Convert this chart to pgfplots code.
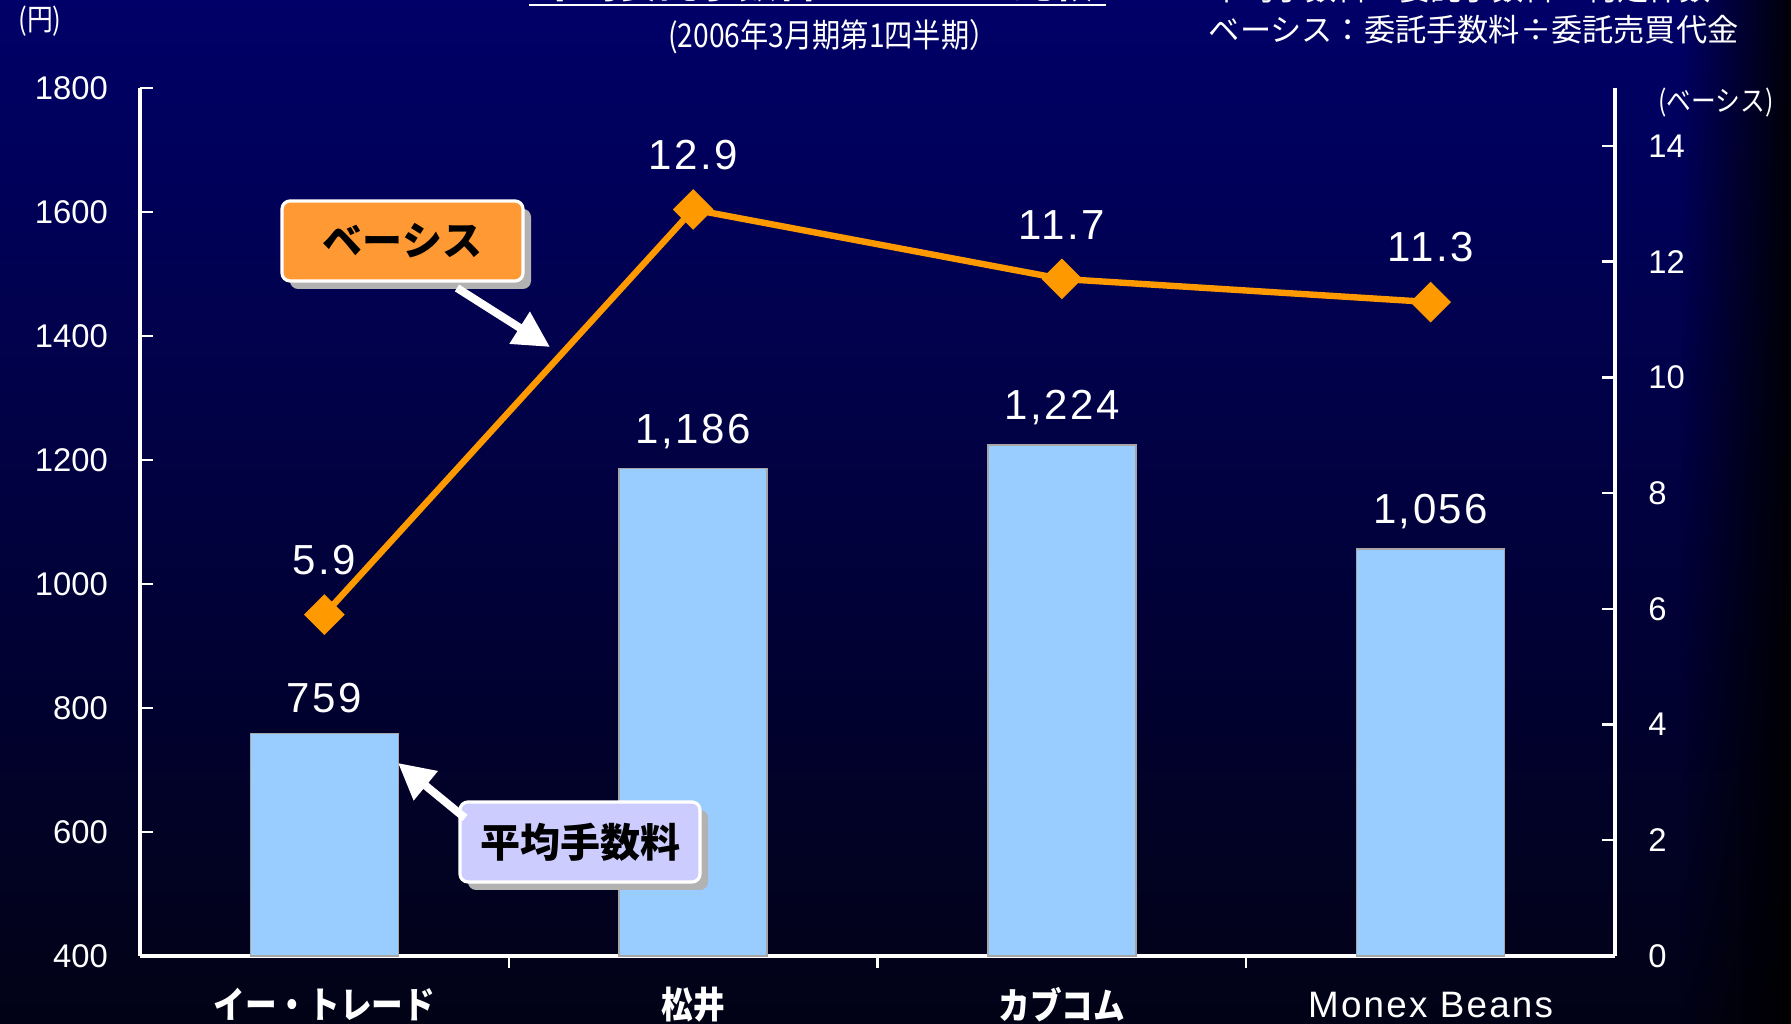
\documentclass[border=0pt]{standalone}
\usepackage{fontspec}
\setmainfont{Liberation Sans}
\newfontfamily\jp{Noto Sans CJK JP}
\newfontfamily\jpc[FakeStretch=0.86]{Noto Sans CJK JP}
\newfontfamily\numfont[LetterSpace=6]{Liberation Sans}
\usepackage{pgfplots}
\pgfplotsset{compat=1.18}
\usetikzlibrary{arrows.meta,fadings}

\definecolor{bgtop}{RGB}{0,0,104}
\definecolor{bgbot}{RGB}{2,2,22}
\definecolor{barblue}{RGB}{153,204,255}
\definecolor{lineorange}{RGB}{255,153,0}
\definecolor{boxorange}{RGB}{255,153,51}
\definecolor{boxlav}{RGB}{204,204,255}
\tikzfading[name=fadeR, left color=transparent!100, right color=transparent!0]

\begin{document}
\begin{tikzpicture}
\path[use as bounding box] (0,0) rectangle (447.75pt,256pt);
\clip (0,0) rectangle (447.75pt,256pt);
\shade[top color=bgtop, bottom color=bgbot] (0,0) rectangle (447.75pt,256pt);

% pixel coordinates, origin top left
\begin{scope}[x=0.25pt,y=-0.25pt,yshift=256pt]
  \fill[black, path fading=fadeR] (1680,-5) rectangle (1800,1030);
\end{scope}

% bars, left axis
\begin{axis}[
  at={(35pt,17pt)}, anchor=south west,
  scale only axis, width=368.75pt, height=217pt,
  xmin=-0.5, xmax=3.5, ymin=400, ymax=1800,
  axis x line*=bottom, axis y line*=left,
  axis line style={white, line width=0.8pt},
  xtick={0,1,2,3},
  xticklabels={{\jpc\bfseries イー・トレード},{\jpc\bfseries 松井},{\jpc\bfseries カブコム},{\numfont Monex Beans}},
  major x tick style={draw=none},
  minor xtick={0.5,1.5,2.5},
  ytick={400,600,...,1800},
  tick align=inside,
  tick style={white, line width=0.6pt},
  major tick length=3.2pt, minor tick length=3pt,
  /pgf/number format/assume math mode=true,
  /pgf/number format/1000 sep={},
  yticklabel style={font=\fontsize{8.2}{9.8}\selectfont, text=white, anchor=east, xshift=-4.5pt},
  xticklabel style={font=\fontsize{9.2}{11}\selectfont, text=white, anchor=center, yshift=-9pt},
  ybar, bar width=37pt, bar shift=0pt,
  clip=false,
]
\addplot[fill=barblue, draw=gray!70, line width=0.4pt,
  nodes near coords={\pgfmathprintnumber[1000 sep={,}]{\pgfplotspointmeta}},
  every node near coord/.append style={font=\numfont\fontsize{10.5}{12}\selectfont, text=white, yshift=1.5pt}]
  coordinates {(0,759)(1,1186)(2,1224)(3,1056)};
\end{axis}

% line, right axis
\begin{axis}[
  at={(35pt,17pt)}, anchor=south west,
  scale only axis, width=368.75pt, height=217pt,
  xmin=-0.5, xmax=3.5, ymin=0, ymax=15,
  axis x line=none, axis y line*=right,
  axis line style={white, line width=0.8pt},
  ytick={0,2,...,14},
  tick align=inside,
  tick style={white, line width=0.6pt},
  major tick length=3.2pt,
  /pgf/number format/assume math mode=true,
  yticklabel style={font=\fontsize{8.2}{9.8}\selectfont, text=white, anchor=west, xshift=4.8pt},
  clip=false,
]
\addplot[lineorange, line width=1.6pt, mark=square*, mark size=2.8pt,
  mark options={rotate=45, fill=lineorange},
  nodes near coords={\pgfmathprintnumber[fixed, fixed zerofill, precision=1]{\pgfplotspointmeta}},
  every node near coord/.append style={font=\numfont\fontsize{10.5}{12}\selectfont, text=white, yshift=5.8pt}]
  coordinates {(0,5.9)(1,12.9)(2,11.7)(3,11.3)};
\end{axis}

\begin{scope}[x=0.25pt,y=-0.25pt,yshift=256pt]
  % clipped title and notes at the top
  \node[anchor=base, text=white, inner sep=0pt] at (817,-2)
    {\jpc\bfseries\fontsize{11.5}{12}\selectfont 平均委託手数料・ベーシス比較};
  \draw[white, line width=0.5pt] (529,5) -- (1106,5);
  \node[anchor=base west, text=white, inner sep=0pt] at (1211,1)
    {\jp\fontsize{7.8}{8}\selectfont 平均手数料：委託手数料÷約定件数};
  \node[anchor=west, text=white, inner sep=0pt] at (1208,30)
    {\jp\fontsize{7.8}{8}\selectfont ベーシス：委託手数料÷委託売買代金};
  \node[text=white, inner sep=0pt] at (833,37)
    {\jpc\fontsize{8.2}{9}\selectfont (2006年3月期第1四半期）};
  \node[text=white, inner sep=0pt] at (40,21)
    {\jpc\fontsize{7.5}{8}\selectfont (円)};
  \node[text=white, inner sep=0pt] at (1716,103)
    {\jpc\fontsize{7.2}{8}\selectfont (ベーシス)};

  % callout: basis
  \fill[gray!60, rounded corners=2pt] (290,209) rectangle (531,289);
  \draw[white, line width=0.8pt, fill=boxorange, rounded corners=2pt] (282,201) rectangle (523,281);
  \node at (402.5,241) {\jp\bfseries\fontsize{10}{12}\selectfont ベーシス};
  \draw[white, line width=2pt, -{Triangle[width=9pt,length=9pt]}] (457,288) -- (550,347);

  % callout: average fee
  \fill[gray!60, rounded corners=2pt] (468,810) rectangle (708,890);
  \draw[white, line width=0.8pt, fill=boxlav, rounded corners=2pt] (460,802) rectangle (700,882);
  \node at (580,842) {\jp\bfseries\fontsize{10}{12}\selectfont 平均手数料};
  \draw[white, line width=2pt, -{Triangle[width=9pt,length=9pt]}] (465,818) -- (398,763);
\end{scope}
\end{tikzpicture}
\end{document}
